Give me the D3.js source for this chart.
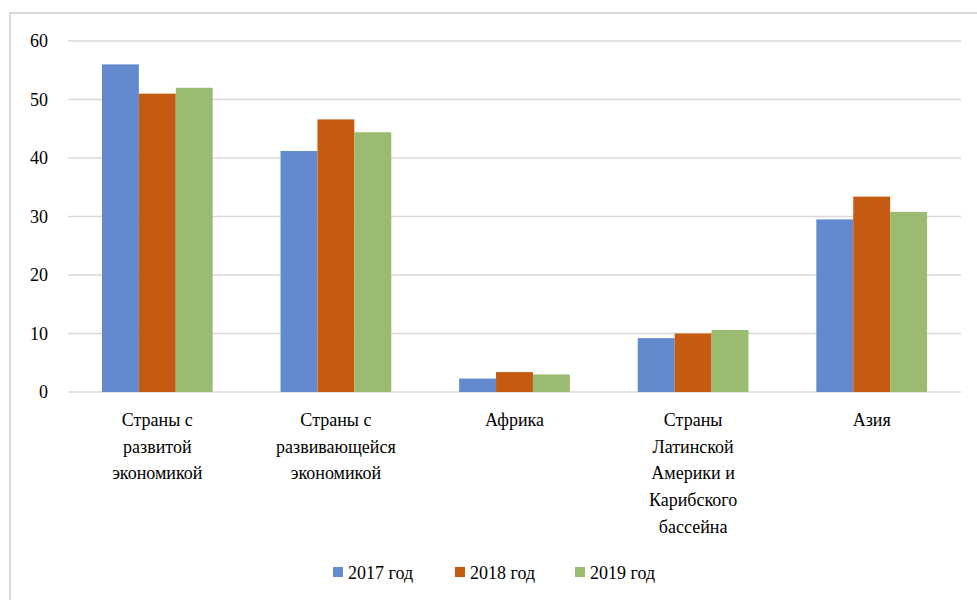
<!DOCTYPE html>
<html>
<head>
<meta charset="utf-8">
<script src="https://cdn.jsdelivr.net/npm/d3@7"></script>
<style>
  body { margin: 0; background: #fff; }
  svg { display: block; }
  svg text { font-family: "Times New Roman", "Liberation Serif", "DejaVu Serif", serif; font-size: 18px; fill: #000; }
</style>
</head>
<body>
<div id="chart"></div>
<script>
// данные
const categories = [
  ["Страны с", "развитой", "экономикой"],
  ["Страны с", "развивающейся", "экономикой"],
  ["Африка"],
  ["Страны", "Латинской", "Америки и", "Карибского", "бассейна"],
  ["Азия"]
];
const seriesNames = ["2017 год", "2018 год", "2019 год"];
const values2017 = [56, 41.2, 2.3, 9.2, 29.5];
const values2018 = [51, 46.6, 3.4, 10, 33.4];
const values2019 = [52, 44.4, 3, 10.6, 30.8];
const yTicks = [0, 10, 20, 30, 40, 50, 60];

const colors = ["#6389CF", "#C55A11", "#9BBB71"];
const allSeries = [values2017, values2018, values2019];

const width = 977, height = 600;

const svg = d3.select("#chart").append("svg")
  .attr("width", width)
  .attr("height", height);

// рамка диаграммы
svg.append("rect")
  .attr("x", 10).attr("y", 13)
  .attr("width", 1000).attr("height", 700)
  .attr("fill", "none")
  .attr("stroke", "#d9d9d9")
  .attr("stroke-width", 2);

const plot = { left: 68, right: 961, top: 41, bottom: 392 };

const x0 = d3.scaleBand()
  .domain(d3.range(categories.length))
  .range([plot.left, plot.right])
  .paddingInner(0.38)
  .paddingOuter(0.19);

const x1 = d3.scaleBand()
  .domain(d3.range(seriesNames.length))
  .range([0, x0.bandwidth()]);

const y = d3.scaleLinear().domain([0, 60]).range([plot.bottom, plot.top]);

// сетка
svg.append("g")
  .selectAll("line")
  .data(yTicks)
  .enter().append("line")
  .attr("x1", plot.left).attr("x2", plot.right)
  .attr("y1", d => y(d)).attr("y2", d => y(d))
  .attr("stroke", "#d9d9d9")
  .attr("stroke-width", 1.5);

// подписи оси Y
svg.append("g")
  .selectAll("text")
  .data(yTicks)
  .enter().append("text")
  .attr("x", 48)
  .attr("y", d => y(d) + 6)
  .attr("text-anchor", "end")
  .text(d => d);

// столбцы
const groups = svg.append("g")
  .selectAll("g")
  .data(categories.map((c, i) => i))
  .enter().append("g")
  .attr("transform", i => `translate(${x0(i)},0)`);

groups.selectAll("rect")
  .data(i => allSeries.map((s, k) => ({ k, v: s[i] })))
  .enter().append("rect")
  .attr("x", d => x1(d.k))
  .attr("y", d => y(d.v))
  .attr("width", x1.bandwidth())
  .attr("height", d => y(0) - y(d.v))
  .attr("fill", d => colors[d.k]);

// подписи категорий
const catLabels = svg.append("g")
  .selectAll("text")
  .data(categories)
  .enter().append("text")
  .attr("x", (d, i) => x0(i) + x0.bandwidth() / 2)
  .attr("y", 426)
  .attr("text-anchor", "middle");

catLabels.selectAll("tspan")
  .data(d => d)
  .enter().append("tspan")
  .attr("x", function() { return d3.select(this.parentNode).attr("x"); })
  .attr("dy", (d, i) => i === 0 ? 0 : 26.7)
  .text(d => d);

// легенда
const legendX = [333, 455, 575];
const legend = svg.append("g")
  .selectAll("g")
  .data(seriesNames)
  .enter().append("g")
  .attr("transform", (d, i) => `translate(${legendX[i]},573)`);

legend.append("rect")
  .attr("x", 0).attr("y", -6)
  .attr("width", 10).attr("height", 10)
  .attr("fill", (d, i) => colors[i]);

legend.append("text")
  .attr("x", 15)
  .attr("y", 6)
  .text(d => d);
</script>
</body>
</html>
